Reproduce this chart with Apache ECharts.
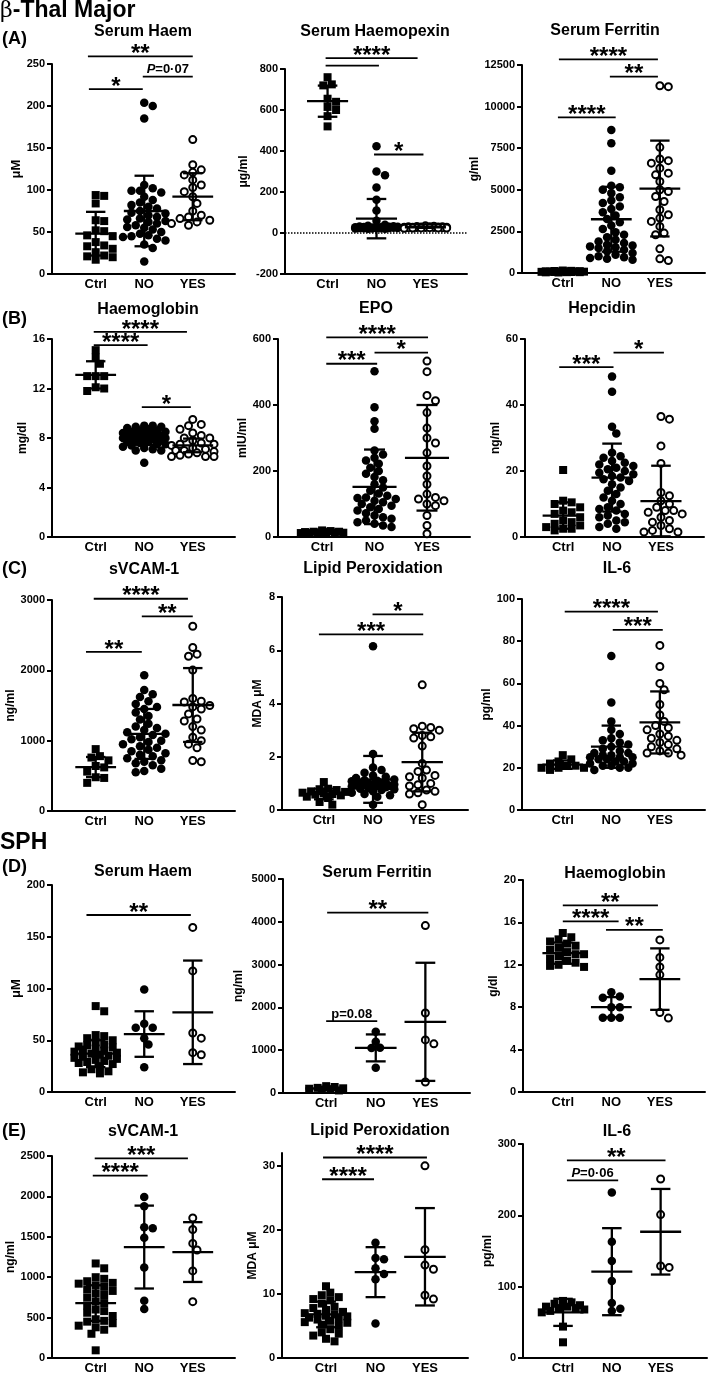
<!DOCTYPE html>
<html><head><meta charset="utf-8">
<script src="https://cdn.jsdelivr.net/npm/echarts@6/dist/echarts.min.js"></script>
<style>html,body{margin:0;padding:0;background:#fff}#c{width:709px;height:1375px}</style>
</head><body><div id="c"></div>
<script>
const cats = ['Ctrl', 'NO', 'YES'];

// ===== β-Thal Major =====
// (A) Serum Haem
const A1_ticks = [0, 50, 100, 150, 200, 250];
const A1_ctrl = [94, 93, 84, 64, 63, 52, 51, 46, 45, 38, 34, 33, 30, 26, 22, 21, 20, 17];
const A1_no = [204, 200, 185, 106, 102, 99, 99, 97, 92, 88, 85, 82, 80, 78, 75, 73, 72, 70, 68, 66, 65, 63, 62, 60, 58, 56, 55, 53, 50, 48, 46, 45, 44, 42, 40, 35, 31, 15];
const A1_yes = [160, 130, 124, 121, 118, 112, 106, 103, 98, 92, 84, 75, 70, 68, 66, 64, 62, 60, 58];
const A1_mean = [48, 75, 92], A1_sd = [26, 42, 28];
const A1_sig = [[-0.16, 2.0, 259, '**'], [-0.14, 0.97, 220, '*'], [0.97, 2.0, 235, 'P=0·07']];
// (A) Serum Haemopexin
const A2_ticks = [-200, 0, 200, 400, 600, 800];
const A2_ctrl = [760, 725, 720, 655, 640, 615, 600, 570, 520];
const A2_no = [423, 300, 282, 222, 162, 110, 60, 40, 35, 33, 32, 31, 30, 30, 29, 28, 28, 27, 27, 26, 26, 25, 25, 24, 24, 23, 23, 22, 22, 21, 21];
const A2_yes = [35, 33, 32, 31, 30, 30, 29, 29, 28, 28, 28, 27, 27, 27, 26, 26, 26, 25, 25, 24, 24, 23];
const A2_mean = [643, 70, 28], A2_sd = [76, 96, 3];
const A2_sig = [[-0.04, 1.84, 853, '****'], [-0.04, 1.05, 816, ''], [0.95, 1.96, 383, '*']];
// (A) Serum Ferritin
const A3_ticks = [0, 2500, 5000, 7500, 10000, 12500];
const A3_ctrl = [150, 130, 120, 110, 100, 100, 90, 90, 80, 80, 70, 70, 60, 60, 50, 50, 40, 30];
const A3_no = [8600, 7800, 6150, 5250, 5150, 5000, 4800, 4550, 4350, 4200, 4000, 3850, 3650, 3450, 3250, 3050, 2850, 2650, 2450, 2300, 2150, 2000, 1900, 1800, 1700, 1650, 1600, 1550, 1500, 1400, 1300, 1200, 1100, 1000, 950, 900, 850, 800];
const A3_yes = [11250, 11200, 7550, 6850, 6750, 6600, 6300, 6000, 5900, 5500, 5000, 4900, 4600, 4300, 3800, 3500, 3300, 3100, 2800, 2400, 2300, 1450, 850, 750];
const A3_mean = [80, 3230, 5076], A3_sd = [30, 1950, 2880];
const A3_sig = [[-0.08, 1.96, 12840, '****'], [0.97, 1.96, 11800, '**'], [-0.1, 1.09, 9350, '****']];
// (B) Haemoglobin
const B1_ticks = [0, 4, 8, 12, 16];
const B1_ctrl = [15.1, 14.5, 14.0, 13.0, 13.0, 13.0, 12.1, 12.0, 11.8];
const B1_no = [9.0, 9.0, 8.9, 8.9, 8.8, 8.7, 8.6, 8.6, 8.5, 8.5, 8.4, 8.4, 8.3, 8.3, 8.2, 8.2, 8.1, 8.1, 8.0, 8.0, 8.0, 8.0, 7.9, 7.9, 7.8, 7.8, 7.7, 7.7, 7.6, 7.5, 7.5, 7.4, 7.3, 7.2, 7.1, 7.0, 7.0, 6.0];
const B1_yes = [9.5, 9.1, 9.0, 8.7, 8.4, 8.2, 8.0, 8.0, 7.8, 7.6, 7.5, 7.5, 7.4, 7.2, 7.1, 7.0, 7.0, 6.9, 6.8, 6.7, 6.6, 6.5, 6.5, 6.5];
const B1_mean = [13.1, 8.05, 7.4], B1_sd = [1.1, 0.6, 0.55];
const B1_sig = [[-0.04, 1.88, 16.57, '****'], [-0.04, 1.07, 15.5, '****'], [0.95, 1.96, 10.5, '*']];
// (B) EPO
const B2_ticks = [0, 200, 400, 600];
const B2_ctrl = [20, 18, 16, 16, 15, 15, 14, 14, 13, 12, 12, 10];
const B2_no = [502, 393, 351, 328, 262, 250, 240, 232, 222, 210, 200, 192, 182, 172, 160, 150, 140, 132, 125, 120, 118, 115, 110, 105, 100, 95, 90, 85, 80, 72, 65, 60, 55, 50, 45, 40, 35, 30];
const B2_yes = [533, 501, 429, 413, 377, 330, 300, 285, 255, 215, 185, 160, 130, 120, 115, 110, 100, 95, 65, 35, 10];
const B2_mean = [14, 152, 240], B2_sd = [3, 113, 160];
const B2_sig = [[0.08, 2.02, 605, '****'], [1.0, 2.02, 559, '*'], [0.08, 1.05, 525, '***']];
// (B) Hepcidin
const B3_ticks = [0, 20, 40, 60];
const B3_ctrl = [20.3, 11, 10.5, 10, 9, 8, 7.5, 7, 6, 5, 4.5, 4, 3.5, 3, 2.5, 2.5, 2];
const B3_no = [48.6, 44, 33.4, 31.4, 25.5, 24, 23, 22, 21, 20.5, 20, 19.5, 19, 18.5, 18, 17.5, 17, 16, 15, 14, 13, 12, 11, 10, 9, 8.5, 8, 7, 6.5, 6, 5, 4.5, 4, 3, 2.5, 24.5, 22.5, 21.5];
const B3_yes = [36.5, 35.7, 27.6, 22.3, 13.5, 12.5, 11, 10, 9, 8, 8, 7.5, 7, 6, 5, 4.5, 3.5, 2.5, 2, 1.5, 1.5];
const B3_mean = [6.5, 18.0, 10.9], B3_sd = [4, 10.3, 10.7];
const B3_sig = [[-0.08, 1.03, 51.5, '***'], [1.03, 2.06, 55.9, '*']];
// (C) sVCAM-1
const C1_ticks = [0, 1000, 2000, 3000];
const C1_ctrl = [880, 780, 760, 720, 640, 620, 560, 480, 470, 400];
const C1_no = [1930, 1720, 1660, 1620, 1560, 1520, 1480, 1450, 1400, 1350, 1300, 1240, 1200, 1180, 1150, 1120, 1100, 1080, 1050, 1020, 1000, 980, 950, 920, 900, 870, 850, 820, 800, 780, 750, 720, 700, 680, 650, 600, 570, 550];
const C1_yes = [2626, 2324, 2230, 2200, 2003, 1600, 1560, 1550, 1500, 1480, 1450, 1380, 1308, 1280, 1200, 1150, 1050, 1000, 950, 900, 718, 700];
const C1_mean = [625, 1096, 1507], C1_sd = [143, 355, 525];
const C1_sig = [[-0.04, 1.9, 3018, '****'], [0.95, 2.0, 2768, '**'], [-0.2, 0.95, 2262, '**']];
// (C) Lipid Peroxidation
const C2_ticks = [0, 2, 4, 6, 8];
const C2_ctrl = [1.05, 0.8, 0.78, 0.75, 0.7, 0.68, 0.65, 0.62, 0.6, 0.58, 0.55, 0.5, 0.45, 0.3, 0.2];
const C2_no = [6.15, 2.1, 1.6, 1.5, 1.4, 1.3, 1.25, 1.2, 1.15, 1.12, 1.1, 1.08, 1.05, 1.0, 1.0, 0.98, 0.96, 0.95, 0.93, 0.92, 0.9, 0.9, 0.88, 0.85, 0.82, 0.8, 0.78, 0.75, 0.7, 0.65, 0.6, 0.55, 0.5, 0.2];
const C2_yes = [4.7, 3.15, 3.1, 3.05, 3.0, 2.8, 2.75, 2.7, 2.4, 1.75, 1.5, 1.45, 1.3, 1.25, 1.2, 1.0, 0.95, 0.9, 0.75, 0.7, 0.65, 0.6, 0.2];
const C2_mean = [0.6, 1.15, 1.8], C2_sd = [0.2, 0.88, 1.1];
const C2_sig = [[0.99, 2.02, 7.35, '*'], [-0.1, 2.02, 6.6, '***']];
// (C) IL-6
const C3_ticks = [0, 20, 40, 60, 80, 100];
const C3_ctrl = [26, 24, 23, 22, 21, 21, 20, 20, 20, 19];
const C3_no = [73, 51, 42, 38, 36, 34, 33, 32, 31, 30, 29, 28, 27, 27, 26, 26, 25, 25, 25, 24, 24, 23, 23, 22, 22, 21, 21, 20, 20, 19];
const C3_yes = [78, 68, 60, 57, 50, 45, 42, 40, 39, 38, 36, 35, 34, 33, 32, 31, 30, 29, 28, 27, 27, 26];
const C3_mean = [21.5, 30, 41.5], C3_sd = [2, 10, 14.7];
const C3_sig = [[0.04, 1.96, 94, '****'], [1.03, 2.06, 85.4, '***']];

// ===== SPH =====
// (D) Serum Haem
const D1_ticks = [0, 50, 100, 150, 200];
const D1_ctrl = [83, 78, 55, 54, 52, 50, 48, 46, 45, 44, 43, 42, 41, 40, 39, 38, 37, 36, 35, 34, 33, 32, 31, 30, 29, 28, 27, 25, 22, 20, 19, 18];
const D1_no = [99, 66, 62, 62, 52, 46, 24];
const D1_yes = [159, 117, 57, 52, 38, 36];
const D1_mean = [37, 56, 77], D1_sd = [13, 22, 50];
const D1_sig = [[-0.19, 1.96, 171, '**']];
// (D) Serum Ferritin
const D2_ticks = [0, 1000, 2000, 3000, 4000, 5000];
const D2_ctrl = [160, 140, 120, 110, 100, 90, 80, 60];
const D2_no = [1430, 1200, 1060, 1050, 590];
const D2_yes = [3911, 1870, 1240, 1148, 258];
const D2_mean = [105, 1054, 1663], D2_sd = [35, 315, 1380];
const D2_sig = [[0.02, 2.06, 4215, '**'], [0.0, 1.03, 1680, 'p=0.08']];
// (D) Haemoglobin
const D3_ticks = [0, 4, 8, 12, 16, 20];
const D3_ctrl = [15.0, 14.6, 14.4, 14.2, 14.0, 13.8, 13.6, 13.4, 13.2, 13.0, 13.0, 12.8, 12.6, 12.4, 12.2, 12.0, 11.9, 11.8];
const D3_no = [9.4, 9.0, 8.9, 8.0, 8.0, 7.0, 7.0, 7.0];
const D3_yes = [14.35, 12.7, 11.8, 11.05, 7.5, 6.97];
const D3_mean = [13.1, 8.0, 10.65], D3_sd = [1.0, 0.95, 2.9];
const D3_sig = [[0.0, 1.96, 17.6, '**'], [0.0, 1.15, 16.1, '****'], [0.89, 2.06, 15.3, '**']];
// (E) sVCAM-1
const E1_ticks = [0, 500, 1000, 1500, 2000, 2500];
const E1_ctrl = [1170, 1110, 1000, 980, 950, 930, 920, 900, 880, 850, 830, 800, 780, 750, 700, 680, 650, 600, 580, 560, 520, 480, 460, 450, 430, 400, 380, 350, 300, 95];
const E1_no = [1992, 1877, 1619, 1607, 1488, 1119, 709, 607];
const E1_yes = [1734, 1590, 1418, 1336, 1078, 697];
const E1_mean = [680, 1373, 1311], E1_sd = [220, 513, 370];
const E1_sig = [[-0.02, 1.9, 2471, '***'], [-0.06, 1.07, 2258, '****']];
// (E) Lipid Peroxidation
const E2_ticks = [0, 10, 20, 30];
const E2_ctrl = [11.2, 10.2, 9.8, 9.5, 9.2, 9.0, 8.5, 8.0, 7.8, 7.5, 7.2, 7.0, 6.9, 6.8, 6.6, 6.5, 6.3, 6.2, 6.0, 5.8, 5.6, 5.5, 5.2, 5.0, 4.5, 4.0, 3.8, 3.5, 3.0, 2.6];
const E2_no = [18.0, 15.6, 15.4, 14.0, 13.1, 12.3, 5.4];
const E2_yes = [30.0, 16.9, 14.5, 13.85, 9.8, 9.2];
const E2_mean = [6.8, 13.4, 15.8], E2_sd = [2.0, 3.9, 7.6];
const E2_sig = [[-0.06, 2.04, 31.3, '****'], [-0.08, 0.97, 27.9, '****']];
// (E) IL-6
const E3_ticks = [0, 100, 200, 300];
const E3_ctrl = [80, 78, 76, 74, 72, 72, 70, 70, 68, 66, 64, 44, 22];
const E3_no = [232, 163, 136, 108, 77, 69, 66];
const E3_yes = [251, 201, 129, 127];
const E3_mean = [64, 121, 177], E3_sd = [19, 61, 60];
const E3_sig = [[0.08, 2.1, 277, '**'], [0.08, 1.13, 249, 'P=0·06']];

const panels = [
  {title: 'Serum Haem', yName: 'μM', ticks: A1_ticks, g: [A1_ctrl, A1_no, A1_yes], mean: A1_mean, sd: A1_sd, sig: A1_sig},
  {title: 'Serum Haemopexin', yName: 'μg/ml', ticks: A2_ticks, g: [A2_ctrl, A2_no, A2_yes], mean: A2_mean, sd: A2_sd, sig: A2_sig, zero: true},
  {title: 'Serum Ferritin', yName: 'g/ml', ticks: A3_ticks, g: [A3_ctrl, A3_no, A3_yes], mean: A3_mean, sd: A3_sd, sig: A3_sig},
  {title: 'Haemoglobin', yName: 'mg/dl', ticks: B1_ticks, g: [B1_ctrl, B1_no, B1_yes], mean: B1_mean, sd: B1_sd, sig: B1_sig},
  {title: 'EPO', yName: 'mIU/ml', ticks: B2_ticks, g: [B2_ctrl, B2_no, B2_yes], mean: B2_mean, sd: B2_sd, sig: B2_sig},
  {title: 'Hepcidin', yName: 'ng/ml', ticks: B3_ticks, g: [B3_ctrl, B3_no, B3_yes], mean: B3_mean, sd: B3_sd, sig: B3_sig},
  {title: 'sVCAM-1', yName: 'ng/ml', ticks: C1_ticks, g: [C1_ctrl, C1_no, C1_yes], mean: C1_mean, sd: C1_sd, sig: C1_sig},
  {title: 'Lipid Peroxidation', yName: 'MDA μM', ticks: C2_ticks, g: [C2_ctrl, C2_no, C2_yes], mean: C2_mean, sd: C2_sd, sig: C2_sig},
  {title: 'IL-6', yName: 'pg/ml', ticks: C3_ticks, g: [C3_ctrl, C3_no, C3_yes], mean: C3_mean, sd: C3_sd, sig: C3_sig},
  {title: 'Serum Haem', yName: 'μM', ticks: D1_ticks, g: [D1_ctrl, D1_no, D1_yes], mean: D1_mean, sd: D1_sd, sig: D1_sig},
  {title: 'Serum Ferritin', yName: 'ng/ml', ticks: D2_ticks, g: [D2_ctrl, D2_no, D2_yes], mean: D2_mean, sd: D2_sd, sig: D2_sig},
  {title: 'Haemoglobin', yName: 'g/dl', ticks: D3_ticks, g: [D3_ctrl, D3_no, D3_yes], mean: D3_mean, sd: D3_sd, sig: D3_sig},
  {title: 'sVCAM-1', yName: 'ng/ml', ticks: E1_ticks, g: [E1_ctrl, E1_no, E1_yes], mean: E1_mean, sd: E1_sd, sig: E1_sig},
  {title: 'Lipid Peroxidation', yName: 'MDA μM', ticks: E2_ticks, g: [E2_ctrl, E2_no, E2_yes], mean: E2_mean, sd: E2_sd, sig: E2_sig},
  {title: 'IL-6', yName: 'pg/ml', ticks: E3_ticks, g: [E3_ctrl, E3_no, E3_yes], mean: E3_mean, sd: E3_sd, sig: E3_sig}
];

// ---- layout (pixels) ----
const LAY = [
  {l: 52, t: 64, b: 274, w: 183, x0: -0.9, x1: 2.87, tx: 143, ty: 32, ng: 23},
  {l: 285, t: 69, b: 274, w: 182, x0: -0.87, x1: 2.85, tx: 375, ty: 32, ng: 35},
  {l: 522, t: 65, b: 273, w: 183, x0: -0.84, x1: 2.93, tx: 605, ty: 31, ng: 29},
  {l: 52, t: 339, b: 537, w: 183, x0: -0.9, x1: 2.87, tx: 148, ty: 310, ng: 21},
  {l: 278, t: 339, b: 537, w: 192, x0: -0.84, x1: 2.82, tx: 376, ty: 309, ng: 18},
  {l: 525, t: 339, b: 537, w: 179, x0: -0.78, x1: 2.88, tx: 602, ty: 309, ng: 21},
  {l: 52, t: 600, b: 811, w: 183, x0: -0.9, x1: 2.87, tx: 144, ty: 570, ng: 24},
  {l: 282, t: 597, b: 810, w: 186, x0: -0.85, x1: 2.93, tx: 373, ty: 569, ng: 18},
  {l: 522, t: 599, b: 810, w: 183, x0: -0.84, x1: 2.93, tx: 617, ty: 569, ng: 22},
  {l: 52, t: 885, b: 1092, w: 183, x0: -0.9, x1: 2.87, tx: 143, ty: 872, ng: 25},
  {l: 283, t: 879, b: 1093, w: 187, x0: -0.87, x1: 2.9, tx: 377, ty: 873, ng: 38},
  {l: 523, t: 880, b: 1092, w: 182, x0: -0.82, x1: 2.93, tx: 615, ty: 874, ng: 20},
  {l: 52, t: 1156, b: 1359, w: 183, x0: -0.9, x1: 2.87, tx: 143, ty: 1132, ng: 24},
  {l: 282, t: 1153, b: 1359, w: 186, x0: -0.89, x1: 2.87, tx: 380, ty: 1131, ng: 14, ymax: 32},
  {l: 523, t: 1144, b: 1359, w: 184, x0: -0.82, x1: 2.95, tx: 617, ty: 1132, ng: 20}
];

const FONT = '"Liberation Sans", Arial, sans-serif';

function swarm(vals, ppu, d, maxHalf) {
  const order = vals.map((v, i) => i).sort((a, b) => vals[b] - vals[a]);
  const placed = [], off = new Array(vals.length).fill(0);
  const step = d * 0.5, minD = d * 0.85;
  const cands = [0];
  for (let k = 1; k * step <= maxHalf + 0.01; k++) cands.push(k * step, -k * step);
  order.forEach(i => {
    const y = vals[i] * ppu;
    let pick = null, alt = 0, altScore = -1;
    for (const x of cands) {
      let m = Infinity;
      for (const p of placed) { const dd = Math.hypot(p.x - x, p.y - y); if (dd < m) m = dd; }
      if (m >= minD) { pick = x; break; }
      if (m > altScore) { altScore = m; alt = x; }
    }
    if (pick === null) pick = alt;
    placed.push({x: pick, y}); off[i] = pick;
  });
  return off;
}

function meanRender(params, api) {
  const x = api.value(0), m = api.value(1), s = api.value(2);
  const c = api.coord([x, m]), t = api.coord([x, m + s]), b = api.coord([x, m - s]);
  const w = api.size([1, 0])[0];
  const hm = 0.42 * w, hc = 0.2 * w;
  const st = {stroke: '#000', lineWidth: 2.3};
  return {type: 'group', children: [
    {type: 'line', shape: {x1: c[0] - hm, y1: c[1], x2: c[0] + hm, y2: c[1]}, style: st},
    {type: 'line', shape: {x1: c[0], y1: t[1], x2: c[0], y2: b[1]}, style: st},
    {type: 'line', shape: {x1: c[0] - hc, y1: t[1], x2: c[0] + hc, y2: t[1]}, style: st},
    {type: 'line', shape: {x1: c[0] - hc, y1: b[1], x2: c[0] + hc, y2: b[1]}, style: st}
  ]};
}

function sigRender(sig) {
  return function (params, api) {
    const s = sig[params.dataIndex];
    const a = api.coord([s[0], s[2]]), b = api.coord([s[1], s[2]]);
    const lab = s[3];
    const ch = [{type: 'line', shape: {x1: a[0], y1: a[1], x2: b[0], y2: b[1]}, style: {stroke: '#000', lineWidth: 1.8}}];
    if (lab) {
      const cx = (a[0] + b[0]) / 2;
      let style, y;
      if (/^\*+$/.test(lab)) {
        y = a[1] - 2;
        style = {text: lab, font: 'bold 24px ' + FONT, fill: '#000'};
      } else if (/^P=/.test(lab)) {
        y = a[1] - 7;
        style = {text: '{i|P}{n|' + lab.slice(1) + '}', fill: '#000', font: 'bold 13px ' + FONT,
          rich: {i: {fontStyle: 'italic', fontWeight: 'bold', fontSize: 13, fontFamily: FONT, fill: '#000'},
                 n: {fontWeight: 'bold', fontSize: 13, fontFamily: FONT, fill: '#000'}}};
      } else {
        y = a[1] - 7;
        style = {text: lab, font: 'bold 13px ' + FONT, fill: '#000'};
      }
      Object.assign(style, {align: 'center', verticalAlign: 'middle', textAlign: 'center', textVerticalAlign: 'middle'});
      ch.push({type: 'text', x: cx, y: y, style: style});
    }
    return {type: 'group', children: ch};
  };
}

const option = {animation: false, backgroundColor: '#fff', grid: [], xAxis: [], yAxis: [], series: [], graphic: []};
const symStyles = [
  {symbol: 'rect', symbolSize: 8, itemStyle: {color: '#000', opacity: 1}},
  {symbol: 'circle', symbolSize: 8.5, itemStyle: {color: '#000', opacity: 1}},
  {symbol: 'circle', symbolSize: 7, itemStyle: {color: '#fff', borderColor: '#000', borderWidth: 2, opacity: 1}}
];

panels.forEach((p, k) => {
  const g = LAY[k];
  const ymin = p.ticks[0];
  const ymax = g.ymax !== undefined ? g.ymax : p.ticks[p.ticks.length - 1];
  const h = g.b - g.t;
  option.grid.push({left: g.l, top: g.t, width: g.w, height: h});
  option.xAxis.push({
    gridIndex: k, type: 'value', min: g.x0, max: g.x1,
    axisLine: {onZero: false, lineStyle: {color: '#000', width: 2}},
    axisTick: {show: false}, splitLine: {show: false},
    axisLabel: {customValues: [0, 1, 2], formatter: v => cats[Math.round(v)], color: '#000',
      fontWeight: 'bold', fontSize: 13, fontFamily: FONT, margin: 4}
  });
  option.yAxis.push({
    gridIndex: k, type: 'value', min: ymin, max: ymax,
    name: p.yName, nameLocation: 'middle', nameGap: g.ng, nameRotate: 90,
    nameTextStyle: {color: '#000', fontWeight: 'bold', fontSize: p.yName === 'μM' ? 13 : 12, fontFamily: FONT},
    axisLine: {show: true, onZero: false, lineStyle: {color: '#000', width: 2}},
    axisTick: {show: true, length: 5, customValues: p.ticks, lineStyle: {color: '#000', width: 2}},
    axisLabel: {customValues: p.ticks, formatter: v => String(v), color: '#000', fontWeight: 'bold', fontSize: 11, fontFamily: FONT, margin: 7},
    splitLine: {show: false}
  });
  const ppu = h / (ymax - ymin);
  const ppc = g.w / (g.x1 - g.x0);
  p.g.forEach((vals, gi) => {
    const off = swarm(vals, ppu, 8.5, 22);
    const s = Object.assign({
      type: 'scatter', xAxisIndex: k, yAxisIndex: k, z: 2, silent: true,
      data: vals.map((v, i) => [gi + off[i] / ppc, v])
    }, JSON.parse(JSON.stringify(symStyles[gi])));
    if (p.zero && gi === 0) {
      s.markLine = {silent: true, symbol: 'none', label: {show: false}, animation: false,
        lineStyle: {type: 'dotted', color: '#000', width: 1.5, opacity: 1}, data: [{yAxis: 0}]};
    }
    option.series.push(s);
  });
  option.series.push({
    type: 'custom', xAxisIndex: k, yAxisIndex: k, z: 3, clip: false, silent: true,
    renderItem: meanRender, encode: {x: 0, y: 1},
    data: p.mean.map((m, i) => [i, m, p.sd[i]])
  });
  option.series.push({
    type: 'custom', xAxisIndex: k, yAxisIndex: k, z: 3, clip: false, silent: true,
    renderItem: sigRender(p.sig), encode: {x: [0, 2], y: 1},
    data: p.sig.map(s => [s[0], s[2], s[1]])
  });
  option.graphic.push({type: 'text', x: g.tx, y: g.ty, silent: true,
    style: {text: p.title, font: 'bold 16px ' + FONT, fill: '#000', align: 'center', verticalAlign: 'middle', textAlign: 'center', textVerticalAlign: 'middle'}});
});

// section headers and panel letters
const headers = [
  {x: 0, y: 11, text: '{b|β}{t|-Thal Major}'},
  {x: 0, y: 843, text: '{t|SPH}'}
];
headers.forEach(hd => option.graphic.push({type: 'text', x: hd.x, y: hd.y, silent: true,
  style: {text: hd.text, align: 'left', verticalAlign: 'middle', textAlign: 'left', textVerticalAlign: 'middle',
    rich: {b: {fontFamily: '"DejaVu Serif", serif', fontSize: 22, fill: '#000'},
           t: {fontFamily: FONT, fontWeight: 'bold', fontSize: 23, fill: '#000'}}}}));
const letters = [['(A)', 39], ['(B)', 319], ['(C)', 569], ['(D)', 867], ['(E)', 1131]];
letters.forEach(([t, y]) => option.graphic.push({type: 'text', x: 2, y: y, silent: true,
  style: {text: t, font: 'bold 18px ' + FONT, fill: '#000', align: 'left', verticalAlign: 'middle', textAlign: 'left', textVerticalAlign: 'middle'}}));

const chart = echarts.init(document.getElementById('c'), null, {renderer: 'canvas', width: 709, height: 1375});
chart.setOption(option);
</script></body></html>
